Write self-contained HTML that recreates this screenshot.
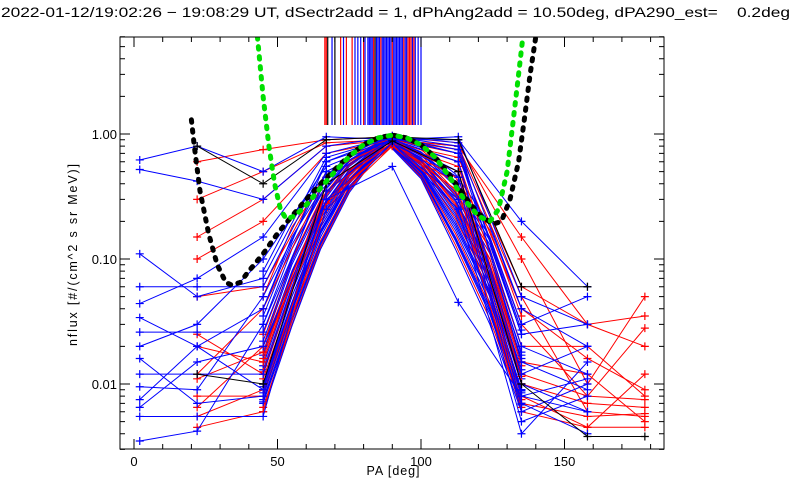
<!DOCTYPE html>
<html><head><meta charset="utf-8">
<style>
html,body{margin:0;padding:0;background:#fff;}
svg{display:block;font-family:"Liberation Sans",sans-serif;}
</style></head>
<body>
<svg id="chart" width="800" height="500" viewBox="0 0 800 500" xmlns="http://www.w3.org/2000/svg">
<rect x="0" y="0" width="800" height="500" fill="#fff"/>
<text x="1" y="17" font-size="14" textLength="789" lengthAdjust="spacingAndGlyphs" style="white-space:pre" fill="#000">2022-01-12/19:02:26 − 19:08:29 UT, dSectr2add = 1, dPhAng2add = 10.50deg, dPA290_est=    0.2deg</text>
<text x="393" y="475" text-anchor="middle" font-size="12.5" textLength="53" fill="#000">PA [deg]</text>
<text transform="translate(77,255) rotate(-90)" text-anchor="middle" font-size="12.5" textLength="182" fill="#000">nflux [#/(cm^2 s sr MeV)]</text>
<g id="marks"></g>
<g id="axes"></g>
</svg>
<script>
// ---- data ----
const xTicks = [0, 50, 100, 150];
const yTicks = [0.01, 0.1, 1];
const yTickLabels = ["0.01", "0.10", "1.00"];
const outerPA = [2, 22, 45, 67, 90, 113, 135, 158, 178];
const outerBlue = [
 [0.62,0.8,0.5,0.95,0.9,0.95,0.05,0.03,null],
 [0.52,0.42,0.3,0.8,0.95,0.7,0.02,0.012,null],
 [0.06,0.06,0.06,0.6,0.9,0.6,0.01,0.006,null],
 [0.044,0.07,0.15,0.7,0.95,0.8,0.04,0.02,null],
 [0.026,0.026,0.026,0.5,0.92,0.5,0.008,0.006,null],
 [0.02,0.03,0.1,0.55,0.9,0.9,0.2,0.06,null],
 [0.012,0.012,0.012,0.4,0.88,0.4,0.006,0.01,null],
 [0.0095,0.009,0.05,0.5,0.92,0.7,0.03,0.05,null],
 [0.0065,0.015,0.02,0.3,0.85,0.3,0.005,0.008,null],
 [0.0055,0.0055,0.0055,0.35,0.9,0.45,0.007,0.004,null],
 [0.0035,0.0042,0.03,0.45,0.9,0.6,0.012,0.02,null],
 [0.016,0.007,0.008,0.25,0.85,0.25,0.004,0.015,null],
 [0.11,0.05,0.07,0.65,0.93,0.75,0.025,0.03,null],
 [0.034,0.02,0.04,0.6,0.97,0.85,0.015,0.009,null],
 [0.0075,0.02,0.009,0.3,0.55,0.045,0.008,0.011,null]
];
const outerRed = [
 [null,0.6,0.75,0.9,0.95,0.85,0.1,0.01,0.05],
 [null,0.3,0.5,0.85,0.9,0.8,0.06,0.03,0.035],
 [null,0.1,0.2,0.7,0.9,0.7,0.03,0.008,0.028],
 [null,0.05,0.06,0.5,0.88,0.6,0.02,0.02,0.008],
 [null,0.02,0.015,0.4,0.85,0.5,0.012,0.008,0.0075],
 [null,0.012,0.04,0.45,0.9,0.75,0.05,0.006,0.0055],
 [null,0.008,0.008,0.3,0.8,0.4,0.008,0.0045,0.0045],
 [null,0.0065,0.02,0.35,0.85,0.55,0.015,0.012,0.005],
 [null,0.0045,0.006,0.25,0.8,0.3,0.006,0.0045,0.012],
 [null,0.15,0.3,0.8,0.9,0.8,0.15,0.03,0.02],
 [null,0.025,0.012,0.35,0.85,0.65,0.04,0.016,0.009],
 [null,0.011,0.018,0.3,0.82,0.45,0.01,0.007,0.0065],
 [null,0.0055,0.009,0.28,0.83,0.35,0.007,0.0055,0.0058]
];
const outerBlack = [
 [null,0.8,0.4,0.9,0.95,0.9,0.06,0.06,null],
 [null,0.012,0.01,0.4,0.88,0.5,0.01,0.0038,0.0038]
];
const corePA = [45, 55, 65, 75, 88, 100, 112, 124, 135];
const coreFlux = [
 [0.08,0.22,0.42,0.68,0.95,0.78,0.48,0.19,0.04],
 [0.05,0.18,0.38,0.65,0.93,0.75,0.45,0.17,0.035],
 [0.04,0.15,0.35,0.62,0.94,0.72,0.42,0.15,0.03],
 [0.03,0.12,0.32,0.6,0.92,0.7,0.38,0.13,0.025],
 [0.025,0.1,0.3,0.58,0.93,0.68,0.35,0.12,0.02],
 [0.02,0.09,0.27,0.55,0.91,0.65,0.32,0.1,0.018],
 [0.018,0.08,0.25,0.52,0.92,0.62,0.3,0.09,0.016],
 [0.015,0.07,0.23,0.5,0.9,0.6,0.27,0.08,0.014],
 [0.013,0.06,0.21,0.48,0.91,0.58,0.25,0.07,0.012],
 [0.012,0.055,0.19,0.46,0.9,0.56,0.23,0.065,0.011],
 [0.011,0.05,0.18,0.44,0.89,0.54,0.21,0.06,0.01],
 [0.01,0.045,0.17,0.42,0.9,0.52,0.2,0.055,0.009],
 [0.009,0.04,0.16,0.41,0.88,0.5,0.18,0.05,0.0085],
 [0.0085,0.038,0.15,0.4,0.89,0.49,0.17,0.045,0.008],
 [0.008,0.036,0.14,0.38,0.87,0.48,0.16,0.042,0.0075],
 [0.0075,0.034,0.135,0.37,0.88,0.47,0.15,0.04,0.007],
 [0.007,0.032,0.13,0.36,0.86,0.46,0.14,0.036,0.0068],
 [0.0065,0.03,0.125,0.35,0.87,0.45,0.13,0.033,0.0065],
 [0.006,0.029,0.12,0.34,0.85,0.44,0.12,0.03,0.006],
 [0.02,0.1,0.28,0.56,0.9,0.62,0.33,0.1,0.015],
 [0.014,0.065,0.22,0.49,0.88,0.57,0.26,0.075,0.013],
 [0.01,0.05,0.18,0.43,0.87,0.53,0.22,0.06,0.01],
 [0.016,0.075,0.24,0.51,0.9,0.6,0.28,0.085,0.015],
 [0.009,0.042,0.16,0.4,0.86,0.5,0.19,0.052,0.009],
 [0.022,0.095,0.29,0.57,0.92,0.64,0.34,0.11,0.017],
 [0.017,0.078,0.245,0.515,0.91,0.61,0.29,0.088,0.015],
 [0.0125,0.058,0.2,0.47,0.9,0.57,0.24,0.068,0.0115],
 [0.0095,0.044,0.165,0.415,0.89,0.51,0.19,0.053,0.0088],
 [0.0072,0.033,0.133,0.365,0.87,0.465,0.145,0.038,0.0069],
 [0.035,0.13,0.33,0.61,0.93,0.71,0.4,0.14,0.027]
];
const coreColor = ["blue","red","blue","blue","red","blue","blue","red","blue","blue","red","blue","blue","blue","red","blue","blue","red","blue","red","blue","blue","red","blue","blue","blue","red","blue","blue","blue"];
const vlineRedPA = [66.5,67,72,74,76,80,83.5,86,90,94,95.5,96,96.5,97.5];
const vlineBlackPA = [67.5,70,84];
const vlineBluePA = [69,73,77,78,79,80.5,81.5,82,82.5,83,84.5,85,85.5,86.5,87,87.5,88,88.5,89,89.5,90.5,91,91.5,92,92.5,93,93.5,94.5,95,97,98,99,100];
const vlineTopFlux = 1.18;
const greenPA = [43,45,47,49,51,53,56,60,65,70,75,80,85,90,95,100,105,110,115,120,124,127,130,132,134,135.5];
const greenFlux = [6,2,0.8,0.4,0.25,0.21,0.22,0.27,0.37,0.5,0.66,0.82,0.93,0.98,0.93,0.82,0.65,0.45,0.3,0.22,0.2,0.25,0.5,1.2,3,6];
const blackPA = [20,21,23,26,29,32,34,37,40,45,50,55,60,65,70,75,80,85,90,95,100,105,110,115,120,125,128,131,134,136,138,140];
const blackFlux = [1.3,0.8,0.35,0.16,0.09,0.065,0.062,0.065,0.08,0.11,0.16,0.22,0.3,0.4,0.52,0.67,0.82,0.93,0.98,0.93,0.82,0.65,0.47,0.32,0.23,0.19,0.2,0.3,0.6,1.3,3,6];

// ---- axes ----
const L=120,R=664,T=37,B=449;
const X0=134, PXD=2.87;
function xs(pa){return X0+pa*PXD;}
function ys(f){return 134-125*Math.log10(f);}
const NS="http://www.w3.org/2000/svg";
const marks=document.getElementById('marks');
const axes=document.getElementById('axes');
function mk(tag,attrs,parent){const e=document.createElementNS(NS,tag);for(const k in attrs)e.setAttribute(k,attrs[k]);parent.appendChild(e);return e;}

const clip=mk('clipPath',{id:'pc'},marks);
mk('rect',{x:L,y:T,width:R-L,height:B-T},clip);
const g=mk('g',{'clip-path':'url(#pc)'},marks);

function drawSeries(pas,vals,color,markAll,name){
  let d='';let first=true;const pts=[];
  for(let i=0;i<pas.length;i++){
    if(vals[i]==null)continue;
    const x=xs(pas[i]),y=ys(vals[i]);
    d+=(first?'M':'L')+x.toFixed(1)+' '+y.toFixed(1);first=false;pts.push([x,y,i]);
  }
  const p=mk('path',{d:d,fill:'none',stroke:color,'stroke-width':1},g);
  
  
  let md='';
  pts.forEach((q,j)=>{
    if(!markAll && j!==0 && j!==pts.length-1)return;
    md+='M'+(q[0]-4)+' '+q[1]+'h8M'+q[0]+' '+(q[1]-4)+'v8';
  });
  if(md){const m=mk('path',{d:md,stroke:color,'stroke-width':1.2,fill:'none'},g);
    
    }
}
coreFlux.forEach((v,i)=>drawSeries(corePA,v,coreColor[i],false,'core-series-'+i));
outerRed.forEach((v,i)=>drawSeries(outerPA,v,'red',true,'red-series-'+i));
outerBlue.forEach((v,i)=>drawSeries(outerPA,v,'blue',true,'blue-series-'+i));
outerBlack.forEach((v,i)=>drawSeries(outerPA,v,'black',true,'black-series-'+i));

function vlines(arr,color,name){
  arr.forEach(pa=>{
    const l=mk('line',{x1:xs(pa),x2:xs(pa),y1:T,y2:ys(vlineTopFlux),stroke:color,'stroke-width':1.2},g);
    
    
  });
}
vlines(vlineBlackPA,'black','vline-black');
vlines(vlineRedPA,'red','vline-red');
vlines(vlineBluePA,'blue','vline-blue');

function curve(pas,vals,color,name){
  let d='';
  pas.forEach((pa,i)=>{d+=(i?'L':'M')+xs(pa).toFixed(1)+' '+ys(vals[i]).toFixed(1);});
  const p=mk('path',{d:d,fill:'none',stroke:color,'stroke-width':5,'stroke-dasharray':'2.5 7.5','stroke-linecap':'round'},g);
  
  
}
curve(blackPA,blackFlux,'#000','black-fit-curve');
curve(greenPA,greenFlux,'#00e000','green-fit-curve');

// frame
const fr=mk('rect',{x:L,y:T,width:R-L,height:B-T,fill:'none',stroke:'#000','stroke-width':1},axes);


let td='';
for(let v=0;v<=180;v+=10){
  const x=xs(v);const len=(v%50===0)?10:5;
  td+='M'+x+' '+B+'v-'+len+'M'+x+' '+T+'v'+len;
}
for(let e=-3;e<=0;e++){
  for(let k=1;k<=9;k++){
    const f=k*Math.pow(10,e);if(f<0.003||f>6)continue;
    const y=ys(f);const len=(k===1)?10:5;
    td+='M'+L+' '+y+'h'+len+'M'+R+' '+y+'h-'+len;
  }
}
const tk=mk('path',{d:td,stroke:'#000','stroke-width':1,fill:'none'},axes);


xTicks.forEach(v=>{
  const t=mk('text',{x:xs(v),y:B+17,'text-anchor':'middle','font-size':13},axes);
  t.textContent=String(v);
  
  
});
yTicks.forEach((v,i)=>{
  const t=mk('text',{x:L-3,y:ys(v)+5,'text-anchor':'end','font-size':13},axes);
  t.textContent=yTickLabels[i];
  
  
});
</script>
</body></html>
